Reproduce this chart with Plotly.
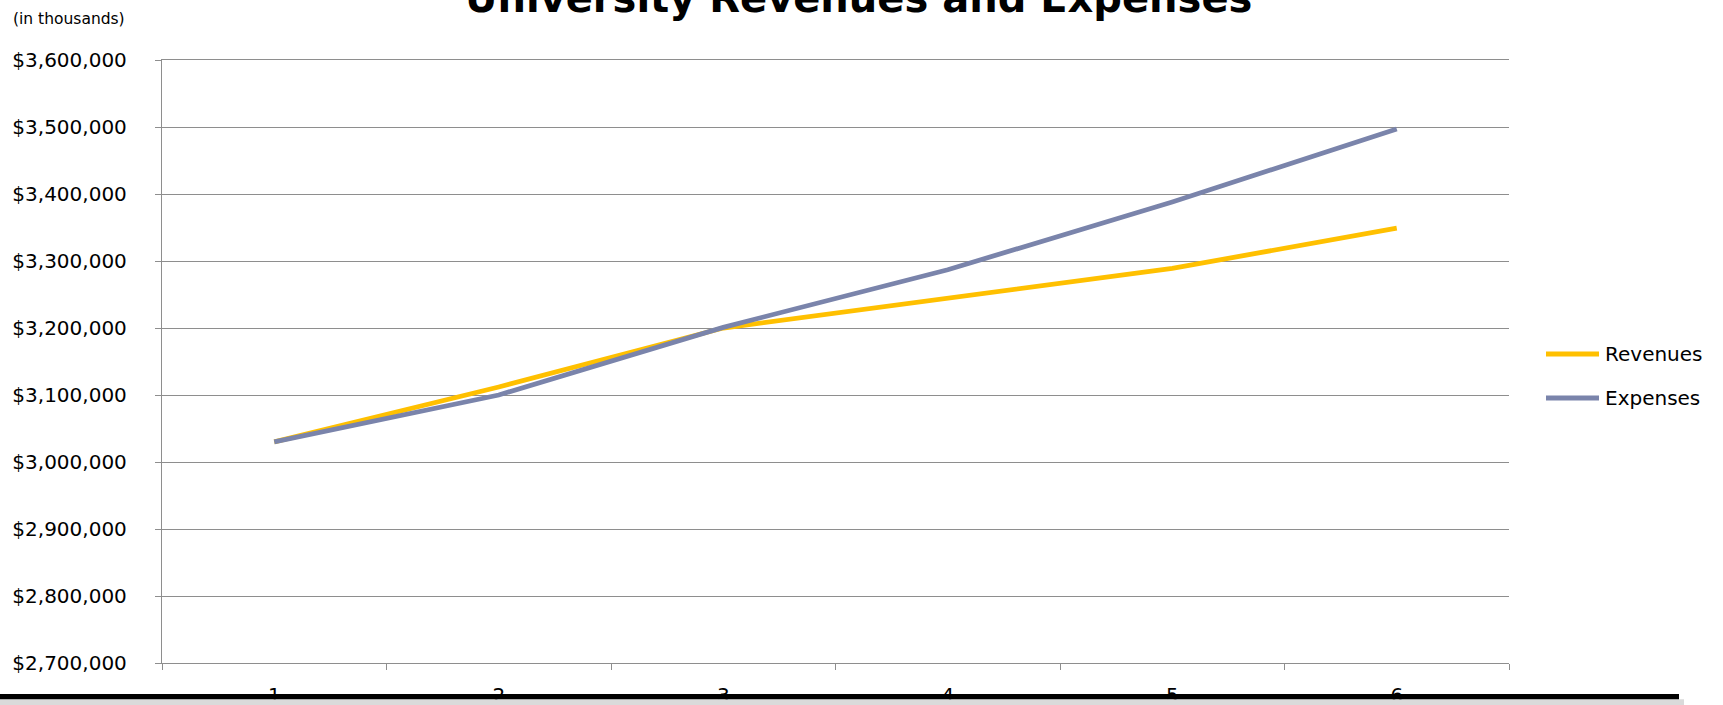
import plotly.graph_objects as go

categories = ["1", "2", "3", "4", "5", "6"]
revenues = [3030000, 3112000, 3200000, 3244000, 3289000, 3349000]
expenses = [3030000, 3100000, 3201000, 3287000, 3388000, 3497000]
series_names = ["Revenues", "Expenses"]
series_colors = ["#FFC000", "#7A84AB"]
title_text = "University Revenues and Expenses"
unit_text = "(in thousands)"

W, H = 1723, 705
L, R, T, B = 162, 214, 60, 42
PW = W - L - R
PH = H - T - B


def px_x(px):
    return (px - L) / PW


def px_y(py):
    return (H - B - py) / PH


FONT = "DejaVu Sans"
GRID = "#8E8E8E"

fig = go.Figure()
for name, vals, col in zip(series_names, [revenues, expenses], series_colors):
    fig.add_trace(go.Scatter(
        x=categories, y=vals, mode="lines", name=name,
        line=dict(color=col, width=4.8), showlegend=False,
    ))

fig.update_layout(
    width=W, height=H,
    margin=dict(l=L, r=R, t=T, b=B, pad=0, autoexpand=False),
    paper_bgcolor="white", plot_bgcolor="white",
    font=dict(family=FONT, size=20, color="black"),
)
fig.update_xaxes(
    type="category", range=[-0.5, 5.5], tickson="boundaries",
    ticks="outside", ticklen=6, tickcolor=GRID, tickwidth=1.3,
    showline=True, linecolor=GRID, linewidth=1.3, showgrid=False, mirror=True,
    tickfont=dict(family=FONT, size=20, color="black"),
    ticklabelstandoff=14, automargin=False,
)
fig.update_yaxes(
    range=[2700000, 3600000], dtick=100000, tick0=2700000,
    tickformat="$,.0f",
    ticks="outside", ticklen=6, tickcolor=GRID, tickwidth=1.3,
    showline=True, linecolor=GRID, linewidth=1.3,
    showgrid=True, gridcolor=GRID, gridwidth=1.3, zeroline=False,
    tickfont=dict(family=FONT, size=20, color="black"),
    ticklabelstandoff=24, automargin=False,
)

annotations = [
    dict(text="<b>" + title_text + "</b>", xref="paper", yref="paper",
         x=px_x(858), y=px_y(-2), xanchor="center", yanchor="middle",
         showarrow=False, font=dict(family=FONT, size=40, color="black")),
    dict(text=unit_text, xref="paper", yref="paper",
         x=px_x(11), y=px_y(19), xanchor="left", yanchor="middle",
         showarrow=False, font=dict(family=FONT, size=15.5, color="black")),
]
shapes = []
legend_y = [354, 398]
for name, col, ly in zip(series_names, series_colors, legend_y):
    shapes.append(dict(type="line", xref="paper", yref="paper",
                       x0=px_x(1546), x1=px_x(1599), y0=px_y(ly), y1=px_y(ly),
                       line=dict(color=col, width=4.8)))
    annotations.append(dict(text=name, xref="paper", yref="paper",
                            x=px_x(1603), y=px_y(ly), xanchor="left", yanchor="middle",
                            showarrow=False, font=dict(family=FONT, size=20, color="black")))

# slide footer bar with shadow
shapes.append(dict(type="rect", xref="paper", yref="paper", layer="above",
                   x0=px_x(0), x1=px_x(1684), y0=px_y(705), y1=px_y(699.3),
                   fillcolor="#DADADA", line=dict(width=0)))
shapes.append(dict(type="rect", xref="paper", yref="paper", layer="above",
                   x0=px_x(0), x1=px_x(1679), y0=px_y(699.3), y1=px_y(694),
                   fillcolor="black", line=dict(width=0)))

fig.update_layout(annotations=annotations, shapes=shapes)
fig.write_html("out.html")
